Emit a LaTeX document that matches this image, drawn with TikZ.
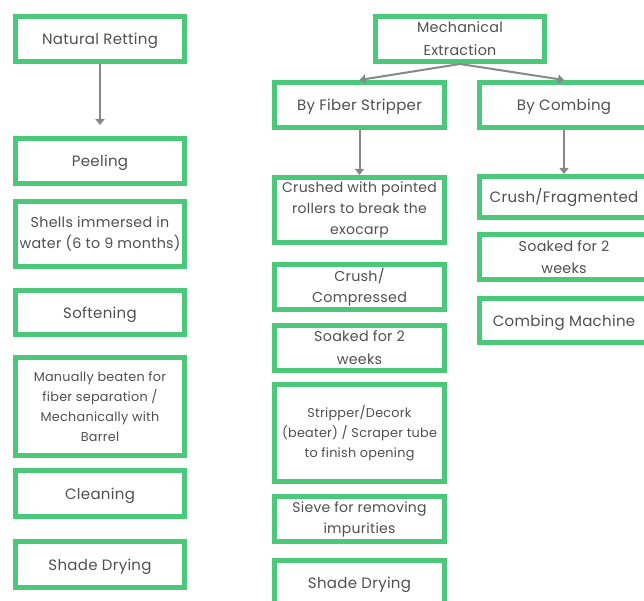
\documentclass[tikz,border=0pt]{standalone}
\usepackage{fontspec}
\setmainfont{Poppins}[LetterSpace=2]
\usetikzlibrary{positioning}
\usetikzlibrary{arrows.meta}
\definecolor{boxgreen}{RGB}{76,200,122}
\definecolor{txtgray}{RGB}{80,80,80}
\definecolor{arrgray}{RGB}{136,136,136}
\tikzset{
 stage/.style={draw=boxgreen,line width=5pt,fill=white,text=txtgray,align=center,
  inner sep=1pt,minimum width=169pt,minimum height=45pt,font=\fontsize{14.3}{21.5}\selectfont},
 single/.style={font=\fontsize{15}{21}\selectfont,text height=15pt,text depth=4pt},
 small/.style={font=\fontsize{12.8}{20}\selectfont},
 flow/.style={draw=arrgray,line width=2pt,-{Triangle[width=9pt,length=6pt]}}
}
\begin{document}
\begin{tikzpicture}[x=1pt,y=1pt]
 \clip (0,0) rectangle (644,-601);
 \fill[white] (0,0) rectangle (644,-601);
 % natural retting
 \node[stage,single] (nat) at (100,-39) {Natural Retting};
 \node[stage,single] (peel) at (100,-161) {Peeling};
 \node[stage,minimum height=65pt] (shells) at (100,-234) {Shells immersed in\\water (6 to 9 months)};
 \node[stage,single,minimum height=44pt] (soft) at (100,-312.5) {Softening};
 \node[stage,small,minimum height=98pt] (beat) at (100,-406.5) {Manually beaten for\\fiber separation /\\Mechanically with\\Barrel};
 \node[stage,single,minimum height=46pt] (clean) at (100,-493.5) {Cleaning};
 \node[stage,single,minimum height=46pt] (shadeL) at (100,-564.5) {Shade Drying};
 % mechanical extraction
 \node[stage,font=\fontsize{14.3}{23}\selectfont] (mech) at (460,-39) {Mechanical\\Extraction};
 \node[stage,single,minimum width=170pt] (strip) at (359.5,-105) {By Fiber Stripper};
 \node[stage,minimum width=170pt,minimum height=65pt,font=\fontsize{14}{21}\selectfont] (crushed) at (359.5,-210) {Crushed with pointed\\rollers to break the\\exocarp};
 \node[stage,minimum width=170pt] (compr) at (359.5,-287) {Crush/\\Compressed};
 \node[stage,minimum width=170pt,font=\fontsize{14.3}{23}\selectfont] (soakM) at (359.5,-348) {Soaked for 2\\weeks};
 \node[stage,small,minimum width=170pt,minimum height=97pt] (decork) at (359.5,-433) {Stripper/Decork\\(beater) / Scraper tube\\to finish opening};
 \node[stage,minimum width=170pt,font=\fontsize{14}{21}\selectfont] (sieve) at (359.5,-519) {Sieve for removing\\impurities};
 \node[stage,single,minimum width=170pt] (shadeM) at (359.5,-583) {Shade Drying};
 % combing
 \node[stage,single,minimum width=170pt] (comb) at (564,-105) {By Combing};
 \node[stage,single,minimum width=170pt,minimum height=41pt] (frag) at (564,-197) {Crush/Fragmented};
 \node[stage,minimum width=170pt] (soakR) at (564,-257) {Soaked for 2\\weeks};
 \node[stage,single,minimum width=170pt,minimum height=44pt] (mach) at (564,-320.5) {Combing Machine};
 % arrows
 \draw[flow,shorten >=11pt] (nat) -- (peel);
 \draw[flow] (mech.south) -- (strip.north);
 \draw[flow] (mech.south) -- (comb.north);
 \draw[flow] (strip) -- (crushed);
 \draw[flow] (comb) -- (frag);
\end{tikzpicture}
\end{document}
